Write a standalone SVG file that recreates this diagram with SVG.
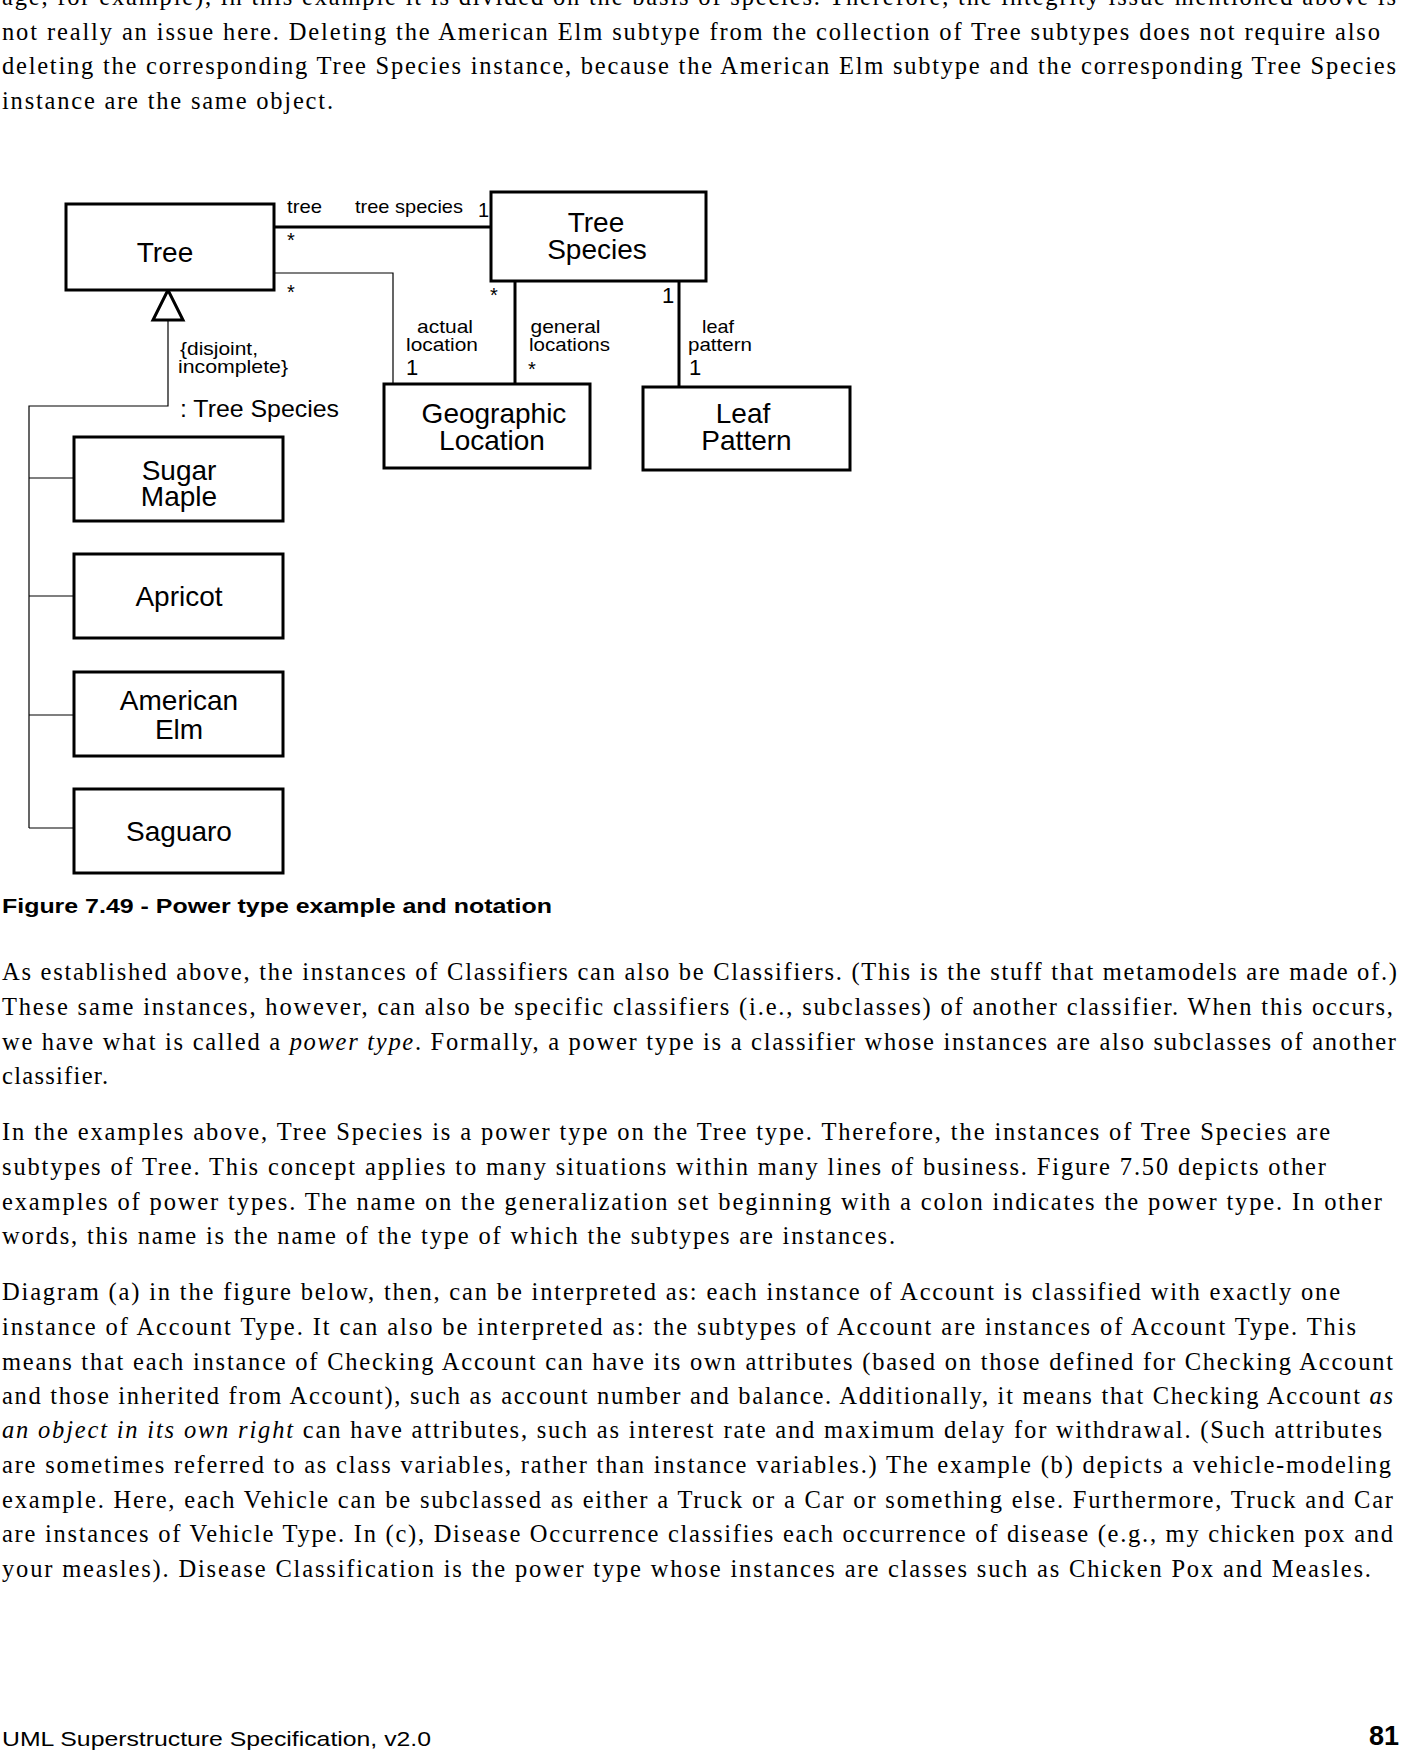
<svg xmlns="http://www.w3.org/2000/svg" width="1401" height="1762" viewBox="0 0 1401 1762">
<style>
.body{font-family:"Liberation Serif","Times New Roman",serif;font-size:24.5px;fill:#000}
.it{font-style:italic}
.box{fill:#fff;stroke:#000;stroke-width:3}
.lbl{font-family:"Liberation Sans",Arial,sans-serif;font-size:28px;fill:#000;text-anchor:middle}
.sm{font-family:"Liberation Sans",Arial,sans-serif;font-size:19px;fill:#000}
.thick{fill:none;stroke:#000;stroke-width:3}
.thin{fill:none;stroke:#000;stroke-width:1.2}
.cap{font-family:"Liberation Sans",Arial,sans-serif;font-size:21px;font-weight:bold;fill:#000}
.foot{font-family:"Liberation Sans",Arial,sans-serif;font-size:21px;fill:#000}
</style>
<rect width="1401" height="1762" fill="#fff"/>

<g id="text-top">
<text class="body" x="2" y="5" textLength="1394" lengthAdjust="spacing">age, for example), in this example it is divided on the basis of species. Therefore, the integrity issue mentioned above is</text>
<text class="body" x="2" y="39.5" textLength="1378" lengthAdjust="spacing">not really an issue here. Deleting the American Elm subtype from the collection of Tree subtypes does not require also</text>
<text class="body" x="2" y="74" textLength="1394" lengthAdjust="spacing">deleting the corresponding Tree Species instance, because the American Elm subtype and the corresponding Tree Species</text>
<text class="body" x="2" y="108.5" textLength="331" lengthAdjust="spacing">instance are the same object.</text>
</g>

<g id="connectors">
<line class="thick" x1="274" y1="227" x2="491" y2="227"/>
<polyline class="thin" points="274,273 393,273 393,384"/>
<line class="thick" x1="515" y1="281" x2="515" y2="384"/>
<line class="thick" x1="679" y1="281" x2="679" y2="387"/>
<polyline class="thin" points="168,320 168,406 29,406 29,828"/>
<line class="thin" x1="29" y1="478" x2="74" y2="478"/>
<line class="thin" x1="29" y1="596" x2="74" y2="596"/>
<line class="thin" x1="29" y1="715" x2="74" y2="715"/>
<line class="thin" x1="29" y1="828" x2="74" y2="828"/>
<polygon points="168,290 153,320 183,320" fill="#fff" stroke="#000" stroke-width="3" stroke-linejoin="miter"/>
<text class="sm" x="287" y="213" textLength="35" lengthAdjust="spacingAndGlyphs">tree</text>
<text class="sm" x="355" y="213" textLength="108" lengthAdjust="spacingAndGlyphs">tree species</text>
<text class="sm" x="478" y="217" style="font-size:20px">1</text>
<text class="sm" x="287" y="247" style="font-size:20px">*</text>
<text class="sm" x="287" y="299" style="font-size:20px">*</text>
<text class="sm" x="490" y="302" style="font-size:20px">*</text>
<text class="sm" x="662" y="303" style="font-size:22px">1</text>
<text class="sm" x="417" y="333" textLength="56" lengthAdjust="spacingAndGlyphs">actual</text>
<text class="sm" x="406" y="351" textLength="72" lengthAdjust="spacingAndGlyphs">location</text>
<text class="sm" x="406" y="375" style="font-size:22px">1</text>
<text class="sm" x="530.5" y="333" textLength="70" lengthAdjust="spacingAndGlyphs">general</text>
<text class="sm" x="529" y="351" textLength="81" lengthAdjust="spacingAndGlyphs">locations</text>
<text class="sm" x="528" y="376" style="font-size:20px">*</text>
<text class="sm" x="702" y="333" textLength="32" lengthAdjust="spacingAndGlyphs">leaf</text>
<text class="sm" x="688" y="351" textLength="64" lengthAdjust="spacingAndGlyphs">pattern</text>
<text class="sm" x="689" y="375" style="font-size:22px">1</text>
<text class="sm" x="180" y="355" textLength="78" lengthAdjust="spacingAndGlyphs">{disjoint,</text>
<text class="sm" x="178" y="373" textLength="110" lengthAdjust="spacingAndGlyphs">incomplete}</text>
<text class="sm" x="180" y="417" style="font-size:24.5px" textLength="159" lengthAdjust="spacingAndGlyphs">: Tree Species</text>
</g>

<g id="node-tree">
<rect class="box" x="66" y="204" width="208" height="86"/>
<text class="lbl" x="165" y="262">Tree</text>
</g>
<g id="node-tree-species">
<rect class="box" x="491" y="192" width="215" height="89"/>
<text class="lbl" x="596" y="232">Tree</text>
<text class="lbl" x="597" y="259">Species</text>
</g>
<g id="node-geographic-location">
<rect class="box" x="384" y="384" width="206" height="84"/>
<text class="lbl" x="494" y="423">Geographic</text>
<text class="lbl" x="492" y="450">Location</text>
</g>
<g id="node-leaf-pattern">
<rect class="box" x="643" y="387" width="207" height="83"/>
<text class="lbl" x="743" y="423">Leaf</text>
<text class="lbl" x="746.5" y="450">Pattern</text>
</g>
<g id="node-sugar-maple">
<rect class="box" x="74" y="437" width="209" height="84"/>
<text class="lbl" x="179" y="480">Sugar</text>
<text class="lbl" x="179" y="506">Maple</text>
</g>
<g id="node-apricot">
<rect class="box" x="74" y="554" width="209" height="84"/>
<text class="lbl" x="179" y="606">Apricot</text>
</g>
<g id="node-american-elm">
<rect class="box" x="74" y="672" width="209" height="84"/>
<text class="lbl" x="179" y="710">American</text>
<text class="lbl" x="179" y="739">Elm</text>
</g>
<g id="node-saguaro">
<rect class="box" x="74" y="789" width="209" height="84"/>
<text class="lbl" x="179" y="841">Saguaro</text>
</g>

<g id="caption">
<text class="cap" x="2" y="913" textLength="550" lengthAdjust="spacingAndGlyphs">Figure 7.49 - Power type example and notation</text>
</g>

<g id="text-body">
<text class="body" x="2" y="980" textLength="1395" lengthAdjust="spacing">As established above, the instances of Classifiers can also be Classifiers. (This is the stuff that metamodels are made of.)</text>
<text class="body" x="2" y="1015" textLength="1391" lengthAdjust="spacing">These same instances, however, can also be specific classifiers (i.e., subclasses) of another classifier. When this occurs,</text>
<text class="body" x="2" y="1050" textLength="1394" lengthAdjust="spacing">we have what is called a <tspan class="it">power type</tspan>. Formally, a power type is a classifier whose instances are also subclasses of another</text>
<text class="body" x="2" y="1084" textLength="106" lengthAdjust="spacing">classifier.</text>

<text class="body" x="2" y="1140" textLength="1328" lengthAdjust="spacing">In the examples above, Tree Species is a power type on the Tree type. Therefore, the instances of Tree Species are</text>
<text class="body" x="2" y="1175" textLength="1324" lengthAdjust="spacing">subtypes of Tree. This concept applies to many situations within many lines of business. Figure 7.50 depicts other</text>
<text class="body" x="2" y="1210" textLength="1380" lengthAdjust="spacing">examples of power types. The name on the generalization set beginning with a colon indicates the power type. In other</text>
<text class="body" x="2" y="1244" textLength="893" lengthAdjust="spacing">words, this name is the name of the type of which the subtypes are instances.</text>

<text class="body" x="2" y="1300" textLength="1338" lengthAdjust="spacing">Diagram (a) in the figure below, then, can be interpreted as: each instance of Account is classified with exactly one</text>
<text class="body" x="2" y="1335" textLength="1354" lengthAdjust="spacing">instance of Account Type. It can also be interpreted as: the subtypes of Account are instances of Account Type. This</text>
<text class="body" x="2" y="1370" textLength="1391" lengthAdjust="spacing">means that each instance of Checking Account can have its own attributes (based on those defined for Checking Account</text>
<text class="body" x="2" y="1404" textLength="1391" lengthAdjust="spacing">and those inherited from Account), such as account number and balance. Additionally, it means that Checking Account <tspan class="it">as</tspan></text>
<text class="body" x="2" y="1438" textLength="1380" lengthAdjust="spacing"><tspan class="it">an object in its own right</tspan> can have attributes, such as interest rate and maximum delay for withdrawal. (Such attributes</text>
<text class="body" x="2" y="1473" textLength="1389" lengthAdjust="spacing">are sometimes referred to as class variables, rather than instance variables.) The example (b) depicts a vehicle-modeling</text>
<text class="body" x="2" y="1508" textLength="1391" lengthAdjust="spacing">example. Here, each Vehicle can be subclassed as either a Truck or a Car or something else. Furthermore, Truck and Car</text>
<text class="body" x="2" y="1542" textLength="1391" lengthAdjust="spacing">are instances of Vehicle Type. In (c), Disease Occurrence classifies each occurrence of disease (e.g., my chicken pox and</text>
<text class="body" x="2" y="1577" textLength="1369" lengthAdjust="spacing">your measles). Disease Classification is the power type whose instances are classes such as Chicken Pox and Measles.</text>
</g>

<g id="footer">
<text class="foot" x="2" y="1746" textLength="429" lengthAdjust="spacingAndGlyphs">UML Superstructure Specification, v2.0</text>
<text class="cap" x="1399" y="1745" style="font-size:27px;text-anchor:end">81</text>
</g>
</svg>
